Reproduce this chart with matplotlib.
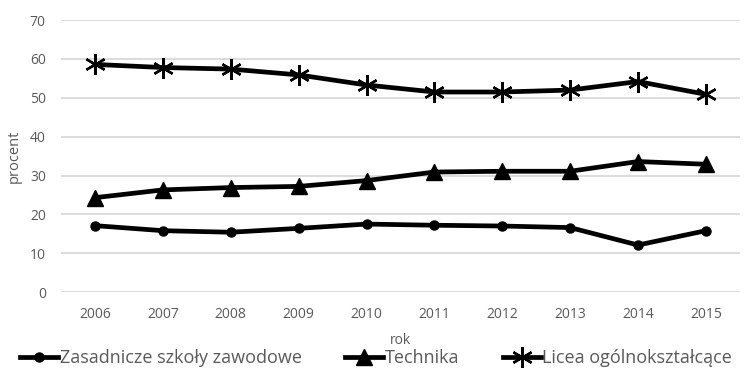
import matplotlib.pyplot as plt

years = ['2006', '2007', '2008', '2009', '2010', '2011', '2012', '2013', '2014', '2015']
zasadnicze = [17.1, 15.8, 15.4, 16.4, 17.5, 17.2, 17.0, 16.6, 12.1, 15.8]
technika = [24.3, 26.3, 26.9, 27.2, 28.7, 30.9, 31.1, 31.1, 33.6, 32.9]
licea = [58.6, 57.8, 57.4, 55.9, 53.3, 51.5, 51.5, 52.0, 54.2, 50.9]

plt.rcParams['font.family'] = ['Open Sans', 'DejaVu Sans']
txt = '#595959'

fig = plt.figure(figsize=(7.45, 3.73), dpi=100)
ax = fig.add_axes([0.082, 0.217, 0.911, 0.729])

x = range(len(years))
ax.plot(x, zasadnicze, color='black', lw=3.4, marker='o', ms=6.5,
        label='Zasadnicze szkoły zawodowe')
ax.plot(x, technika, color='black', lw=3.4, marker='^', ms=11,
        label='Technika')
ax.plot(x, licea, color='black', lw=3.4, marker=(6, 2, 0), ms=15, mew=1.7,
        label='Licea ogólnokształcące')

ax.set_xlim(-0.5, len(years) - 0.5)
ax.set_ylim(0, 70)
ax.set_yticks(range(0, 71, 10))
ax.set_xticks(list(x))
ax.set_xticklabels(years)
ax.grid(axis='y', color='#d9d9d9', lw=1.3)
ax.set_axisbelow(True)
for s in ax.spines.values():
    s.set_visible(False)
ax.tick_params(length=0, colors=txt, labelsize=10)
ax.tick_params(axis='x', pad=11)
ax.tick_params(axis='y', pad=11)
ax.set_ylabel('procent', color=txt, fontsize=10.5, labelpad=6)
ax.set_xlabel('rok', color=txt, fontsize=10, labelpad=8)

leg = fig.legend(loc='center', bbox_to_anchor=(0.505, 0.04), ncol=3, frameon=False,
                 fontsize=13, handlelength=2.1, columnspacing=2.4, handletextpad=0.1,
                 labelcolor=txt)
plt.savefig('out.png', dpi=100)
